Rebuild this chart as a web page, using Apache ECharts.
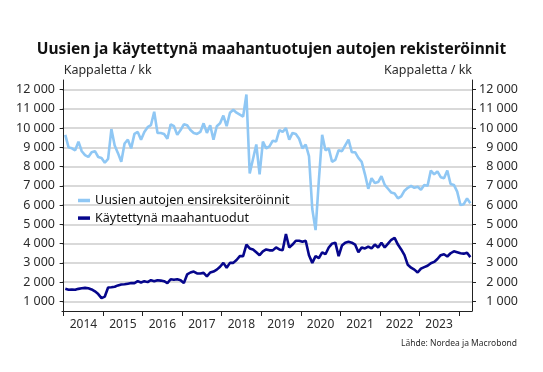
<!DOCTYPE html>
<html>
<head>
<meta charset="utf-8">
<script src="https://cdn.jsdelivr.net/npm/echarts@6/dist/echarts.min.js"></script>
<style>
html,body{margin:0;padding:0;background:#fff;}
#chart{width:543px;height:372px;}
</style>
</head>
<body>
<div id="chart"></div>
<script>
// Monthly data, Jan 2014 .. Apr 2024
const startYear = 2014;
const newRegistrations = [
  9650,9000,8950,8850,9300,8800,8600,8500,8750,8800,8500,8450,
  8200,8400,9950,9100,8700,8250,9200,9400,8950,9700,9800,9400,
  9800,10050,10150,10850,9750,9750,9700,9450,10200,10100,9650,9900,
  10200,10150,9900,9750,9700,9800,10250,9750,10150,9400,10100,10250,
  10650,10100,10800,10950,10800,10700,10600,11750,7650,8400,9150,7600,
  9300,8950,9050,9350,9300,9900,9800,10000,9400,9750,9700,9450,
  8950,9150,8550,5800,4700,7300,9650,8850,8950,8250,8350,8850,
  8800,9100,9400,8750,8750,8450,8250,7600,6850,7400,7150,7200,
  7500,7050,6850,6650,6600,6350,6450,6750,6900,7000,6900,6950,
  6800,7050,7000,7800,7600,7750,7450,7400,7800,7100,7050,6700,
  6000,6050,6350,6100
];
const usedImports = [
  1650,1600,1620,1600,1650,1680,1700,1680,1620,1520,1380,1170,
  1250,1720,1730,1760,1830,1880,1890,1920,1950,1950,2050,1980,
  2050,2000,2100,2050,2100,2080,2050,1950,2150,2120,2150,2100,
  1950,2400,2500,2550,2450,2450,2480,2300,2500,2550,2650,2800,
  3000,2750,3000,3000,3150,3350,3350,3950,3750,3700,3550,3400,
  3600,3700,3650,3650,3800,3700,3650,4500,3800,3950,4150,4150,
  4100,4150,3400,3000,3350,3250,3550,3450,3800,4000,4050,3350,
  3900,4050,4100,4050,3950,3550,3800,3750,3850,3750,3950,3800,
  4050,3800,4000,4200,4300,3950,3700,3400,2900,2750,2650,2500,
  2700,2780,2850,2980,3050,3200,3400,3450,3330,3500,3600,3550,
  3500,3480,3530,3300
];
const yearLabels = [2014,2015,2016,2017,2018,2019,2020,2021,2022,2023];
const yTicks = [1000,2000,3000,4000,5000,6000,7000,8000,9000,10000,11000,12000];
const seriesNames = ['Uusien autojen ensireksiteröinnit', 'Käytettynä maahantuodut'];

// x position = months since Jan 2014 (mid-month)
const toPoints = arr => arr.map((v, i) => [i + 0.5, v]);
const yearTicks = yearLabels.map((y, k) => k * 12).concat([yearLabels.length * 12]);
const yearLabelPos = yearLabels.map((y, k) => k * 12 + 6);

const FONT = 'Noto Sans';
const TXT = '#2b2b2b';
const fmtNum = v => v >= 10000 ? String(v).slice(0, 2) + ' ' + String(v).slice(2) : String(v).slice(0, 1) + ' ' + String(v).slice(1);

function yAxisCfg(pos) {
  const left = pos === 'left';
  return {
    type: 'value', position: pos, min: 500, max: 12500,
    name: 'Kappaletta / kk', nameLocation: 'end', nameGap: 3,
    nameTextStyle: { fontFamily: FONT, fontSize: 12.5, color: TXT, align: left ? 'left' : 'right', verticalAlign: 'bottom' },
    axisLine: { show: true, lineStyle: { color: '#222', width: 1 } },
    axisTick: { show: true, customValues: yTicks, length: 4, lineStyle: { color: '#222', width: 1 } },
    axisLabel: {
      customValues: yTicks, fontFamily: FONT, fontSize: 12.5, color: TXT,
      formatter: fmtNum, align: 'right', margin: left ? 7 : 46
    },
    splitLine: { show: left, lineStyle: { color: '#cccccc', width: 1.5 } }
  };
}

const chart = echarts.init(document.getElementById('chart'), null, { renderer: 'canvas' });
chart.setOption({
  animation: false,
  backgroundColor: '#ffffff',
  title: {
    text: 'Uusien ja käytettynä maahantuotujen autojen rekisteröinnit',
    left: 'center', top: 37,
    textStyle: { fontFamily: FONT, fontSize: 15.5, fontWeight: 'bold', color: '#111' }
  },
  graphic: [{
    type: 'text', right: 26, top: 339,
    style: { text: 'Lähde: Nordea ja Macrobond', fontFamily: FONT, fontSize: 8.5, fill: TXT }
  }],
  legend: {
    orient: 'vertical', left: 73, top: 188,
    itemWidth: 12, itemHeight: 3.5, itemGap: 2.6, icon: 'rect',
    textStyle: { fontFamily: FONT, fontSize: 12.5, color: '#111', lineHeight: 15 },
    data: seriesNames
  },
  grid: { left: 62, right: 71, top: 80, bottom: 61, containLabel: false },
  xAxis: {
    type: 'value', min: -0.5, max: 124,
    axisLine: { show: true, onZero: false, lineStyle: { color: '#222', width: 1 } },
    axisTick: { show: true, customValues: yearTicks, length: 5, lineStyle: { color: '#222' } },
    axisLabel: {
      customValues: yearLabelPos, fontFamily: FONT, fontSize: 12, color: TXT, margin: 8,
      formatter: v => String(startYear + Math.round((v - 6) / 12))
    },
    splitLine: { show: false }
  },
  yAxis: [yAxisCfg('left'), yAxisCfg('right')],
  series: [
    {
      name: seriesNames[0], type: 'line', yAxisIndex: 0, data: toPoints(newRegistrations),
      showSymbol: false, symbol: 'none', color: '#8fc7f4',
      lineStyle: { color: '#8fc7f4', width: 2.6 }
    },
    {
      name: seriesNames[1], type: 'line', yAxisIndex: 0, data: toPoints(usedImports),
      showSymbol: false, symbol: 'none', color: '#06068c',
      lineStyle: { color: '#06068c', width: 2.6 }
    }
  ]
});
</script>
</body>
</html>
